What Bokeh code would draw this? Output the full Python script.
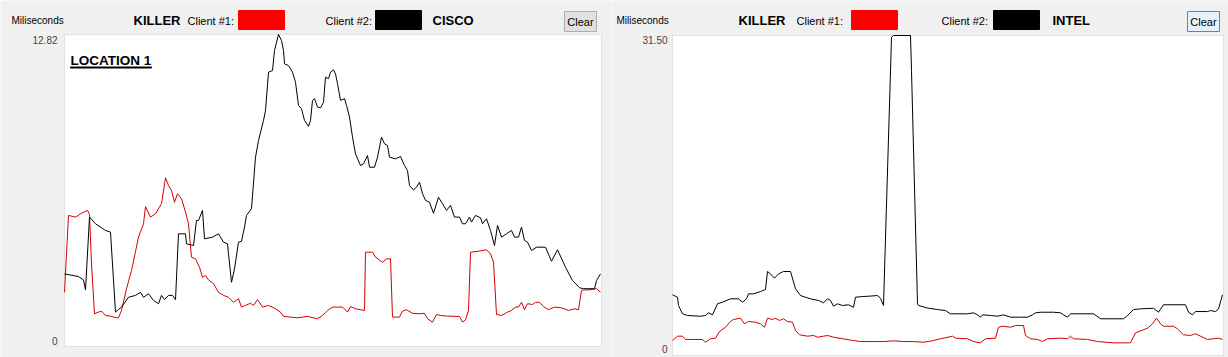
from bokeh.plotting import figure
from bokeh.layouts import row
from bokeh.models import Label, BoxAnnotation, Range1d
from bokeh.embed import file_html
from bokeh.resources import INLINE

# ---------------- data (milliseconds vs. sample) ----------------
# Panel 1: KILLER (client #1, red) vs CISCO (client #2, black), LOCATION 1
killer1_x = [0, 4, 11, 17, 23, 25, 27, 30, 34, 37, 41, 46, 52, 54, 57, 62, 67, 74, 79, 81,
             86, 91, 97, 101, 104, 107, 110, 113, 117, 121, 124, 127, 131, 135, 138, 141, 144, 149, 154, 159,
             164, 169, 174, 177, 181, 186, 189, 193, 198, 204, 211, 216, 219, 226, 233, 243, 253, 258, 263, 268,
             278, 283, 286, 291, 300, 301, 308, 311, 318, 322, 326, 328, 335, 338, 342, 348, 355, 360, 363, 368,
             372, 376, 383, 395, 398, 401, 404, 406, 414, 422, 426, 429, 432, 437, 443, 447, 451, 454, 457, 460,
             463, 468, 471, 475, 479, 484, 490, 497, 504, 510, 514, 517, 519, 524, 532, 536]
killer1_ms = [2.02, 5.24, 5.17, 5.33, 5.45, 5.28, 3.21, 1.12, 1.19, 1.23, 1.05, 1.02, 0.95, 0.95, 1.26, 2.17, 2.93, 4.33, 4.89, 5.61,
              5.17, 5.31, 5.73, 6.82, 6.49, 6.29, 5.79, 6.15, 5.94, 5.38, 4.89, 3.49, 3.42, 3.07, 2.65, 2.72, 2.54, 2.38, 2.02, 1.89,
              1.81, 1.60, 1.75, 1.40, 1.47, 1.56, 1.47, 1.71, 1.40, 1.47, 1.33, 1.19, 1.01, 0.98, 0.95, 1.01, 0.91, 1.05, 1.26, 1.40,
              1.40, 1.19, 1.42, 1.33, 1.26, 3.70, 3.70, 3.49, 3.28, 3.42, 3.42, 0.98, 0.98, 1.23, 1.29, 1.14, 1.12, 1.14, 0.91, 0.77,
              1.09, 1.05, 1.02, 1.01, 0.77, 0.87, 1.26, 3.70, 3.74, 3.80, 3.63, 3.28, 1.09, 1.05, 1.19, 1.26, 1.40, 1.40, 1.60, 1.29,
              1.54, 1.51, 1.60, 1.60, 1.42, 1.29, 1.40, 1.37, 1.26, 1.33, 1.29, 2.10, 2.12, 2.12, 2.17, 2.02]

cisco_x = [0, 14, 19, 21, 25, 31, 41, 46, 51, 54, 57, 64, 71, 76, 79, 84, 89, 94, 97, 100,
           104, 108, 111, 114, 121, 122, 129, 132, 134, 138, 140, 148, 154, 159, 163, 164, 167, 170, 174, 177,
           180, 182, 187, 191, 194, 199, 201, 204, 208, 210, 214, 217, 219, 220, 224, 228, 231, 234, 237, 240,
           244, 246, 248, 250, 253, 256, 259, 261, 264, 266, 269, 271, 273, 276, 280, 282, 285, 288, 291, 296,
           299, 303, 305, 310, 313, 317, 320, 323, 325, 331, 336, 340, 343, 345, 349, 352, 355, 358, 361, 365,
           369, 374, 378, 382, 386, 390, 395, 398, 401, 405, 407, 411, 416, 418, 422, 426, 430, 433, 437, 442,
           447, 450, 454, 457, 460, 463, 467, 472, 481, 487, 493, 501, 508, 515, 519, 530, 532, 536]
cisco_ms = [2.79, 2.68, 2.54, 2.12, 5.17, 4.89, 4.61, 4.54, 1.19, 1.30, 1.40, 1.81, 1.89, 2.02, 1.81, 1.96, 1.68, 1.54, 1.89, 1.72,
            1.89, 1.89, 1.71, 4.47, 4.47, 4.05, 3.98, 5.03, 5.03, 5.45, 4.26, 4.33, 4.47, 4.12, 4.05, 3.63, 2.44, 3.00, 4.12, 4.16,
            4.75, 5.24, 5.52, 7.68, 8.38, 9.22, 9.64, 11.24, 11.31, 12.15, 12.82, 12.57, 12.15, 11.59, 11.52, 11.24, 10.82, 9.85, 9.71, 9.22,
            8.97, 9.22, 10.06, 10.13, 9.78, 9.75, 9.98, 11.03, 10.97, 11.24, 11.34, 11.17, 10.76, 10.06, 10.13, 9.85, 9.36, 8.52, 7.82, 7.33,
            7.40, 7.75, 7.26, 7.26, 7.68, 8.52, 8.24, 8.17, 7.68, 7.61, 7.71, 7.33, 7.12, 6.49, 6.31, 6.42, 6.63, 6.15, 5.87, 5.79,
            5.33, 6.00, 5.73, 5.45, 5.66, 5.17, 5.17, 4.89, 4.89, 5.17, 4.96, 5.24, 5.14, 4.89, 5.10, 4.61, 3.98, 4.82, 4.33, 4.47,
            4.61, 4.33, 4.33, 4.75, 4.19, 4.12, 3.77, 3.91, 3.91, 3.32, 3.80, 3.07, 2.51, 2.21, 2.17, 2.17, 2.51, 2.79]

# Panel 2: KILLER (client #1, red) vs INTEL (client #2, black)
killer2_x = [0, 5, 10, 13, 30, 33, 38, 43, 47, 53, 58, 61, 68, 72, 76, 83, 88, 92, 95, 100,
             103, 107, 111, 115, 120, 123, 127, 135, 141, 145, 151, 155, 161, 170, 181, 188, 201, 211, 221, 231,
             241, 251, 261, 268, 271, 280, 283, 295, 301, 308, 313, 323, 326, 330, 338, 343, 351, 353, 358, 365,
             370, 375, 388, 395, 398, 401, 415, 425, 441, 458, 463, 475, 480, 484, 488, 491, 501, 505, 511, 518,
             523, 528, 535, 541, 546, 550]
killer2_ms = [0.80, 1.24, 1.24, 0.91, 0.91, 0.63, 0.98, 1.04, 1.71, 2.14, 2.72, 2.92, 3.05, 2.48, 2.72, 2.65, 2.48, 2.14, 3.05, 2.92,
              3.05, 2.82, 2.99, 2.72, 2.65, 1.81, 1.38, 1.24, 1.31, 1.14, 1.24, 1.31, 1.14, 0.98, 0.80, 0.70, 0.70, 0.70, 0.77, 0.70,
              0.70, 0.63, 0.80, 0.98, 1.04, 1.24, 1.04, 0.98, 0.70, 0.57, 0.98, 1.04, 2.14, 2.24, 2.14, 2.31, 2.31, 1.31, 0.98, 0.91,
              0.70, 0.98, 1.04, 0.98, 1.24, 0.98, 0.91, 0.70, 0.57, 0.57, 1.58, 2.04, 2.48, 3.05, 2.48, 2.24, 2.24, 1.98, 1.38, 1.31,
              1.48, 1.24, 0.91, 0.98, 1.04, 0.91]

intel_x = [0, 5, 6, 10, 15, 28, 33, 36, 40, 45, 50, 58, 66, 70, 74, 76, 81, 88, 93, 95,
           98, 102, 106, 111, 118, 123, 128, 133, 138, 146, 151, 155, 158, 161, 165, 170, 176, 181, 183, 190,
           196, 205, 208, 211, 219, 221, 238, 239, 245, 246, 255, 265, 273, 278, 295, 301, 305, 308, 310, 318,
           325, 331, 338, 348, 355, 360, 363, 368, 381, 388, 391, 395, 398, 421, 428, 451, 455, 461, 468, 481,
           486, 491, 513, 516, 520, 523, 535, 538, 543, 546, 550]
intel_ms = [5.40, 5.16, 4.33, 3.49, 3.32, 3.25, 3.32, 3.59, 3.39, 4.50, 4.66, 5.00, 5.00, 4.66, 5.00, 5.50, 5.50, 5.73, 5.94, 7.75,
            7.51, 7.07, 7.51, 7.75, 7.75, 6.01, 5.33, 5.16, 5.00, 4.83, 4.60, 5.00, 4.83, 4.26, 4.50, 4.33, 4.40, 4.15, 5.16, 5.23,
            5.26, 5.33, 5.06, 4.33, 31.32, 31.50, 31.50, 27.97, 4.50, 4.33, 4.07, 3.92, 3.82, 3.49, 3.49, 3.59, 3.39, 3.15, 3.39, 3.32,
            3.25, 3.39, 3.15, 3.15, 3.15, 3.39, 3.59, 3.65, 3.65, 3.59, 3.39, 3.15, 3.49, 3.49, 2.99, 2.99, 3.32, 3.92, 3.99, 4.05,
            3.65, 4.40, 4.40, 3.65, 3.39, 3.72, 3.72, 3.82, 3.72, 3.99, 5.40]

# axis extents and tick labels
x_max1, x_max2 = 537, 551
ticks1 = [0, 12.82]
tick_labels1 = ["0", "12.82"]
ticks2 = [0, 31.5]
tick_labels2 = ["0", "31.50"]

# header texts
unit_text = "Miliseconds"
client1_name = "KILLER"
client1_label = "Client #1:"
client2_label = "Client #2:"
client2_names = ["CISCO", "INTEL"]
location_text = "LOCATION 1"
button_text = "Clear"

FONT = "Liberation Sans"
BG = "#f0f0f0"
RED = "#d40000"
BLACK = "#000000"
PAGE_H = 357
TOP = 0


def dx(g, px):
    return (px - g["ox"]) * g["sx"]


def dy(g, py):
    return (g["oy"] - py) * g["sy"]


def make_fig(g):
    p = figure(width=g["w"], height=PAGE_H,
               x_range=Range1d(dx(g, g["x0"]), dx(g, g["x0"] + g["w"])),
               y_range=Range1d(dy(g, TOP + PAGE_H), dy(g, TOP)),
               output_backend="svg", toolbar_location=None,
               min_border=0, min_border_left=0, min_border_right=0,
               min_border_top=0, min_border_bottom=0,
               background_fill_color=BG, border_fill_color=BG,
               outline_line_color=None)
    p.xaxis.visible = False
    p.yaxis.visible = False
    p.grid.visible = False
    # white plotting area framed like the original control
    p.add_layout(BoxAnnotation(left=0, right=g["xmax"], bottom=dy(g, g["bottom"]), top=g["ymax"],
                               fill_color="white", fill_alpha=1.0,
                               line_color="#b0b0b0", line_width=1, level="underlay"))
    return p


def text(p, g, px, py, s, size="11px", bold=False, align="left", color="black"):
    p.add_layout(Label(x=dx(g, px), y=dy(g, py), text=s, text_font=FONT,
                       text_font_size=size, text_font_style="bold" if bold else "normal",
                       text_align=align, text_baseline="middle", text_color=color))


def box(p, g, x1, y1, x2, y2, fill, line=None):
    p.add_layout(BoxAnnotation(left=dx(g, x1), right=dx(g, x2), top=dy(g, y1), bottom=dy(g, y2),
                               fill_color=fill, fill_alpha=1.0,
                               line_color=line if line else fill, line_alpha=1.0, line_width=1))


def header(p, g, lay, name2, btn_fill, btn_line):
    text(p, g, lay["unit"], 20, unit_text, size="10px")
    text(p, g, lay["k"], 20, client1_name, size="13px", bold=True)
    text(p, g, lay["c1"], 20, client1_label)
    box(p, g, lay["b1"], 10, lay["b1"] + 46, 29, "#ff0000")
    text(p, g, lay["c2"], 20, client2_label)
    box(p, g, lay["b2"], 10, lay["b2"] + 46, 29, "#000000")
    text(p, g, lay["n2"], 20, name2, size="13px", bold=True)
    box(p, g, lay["btn"], 11, lay["btn"] + 32, 31, btn_fill, btn_line)
    text(p, g, lay["btn"] + 16, 21, button_text, align="center")


# ---------------- left panel ----------------
g1 = dict(x0=0, w=612, ox=64, sx=1.0, oy=340, sy=12.82 / 306, xmax=x_max1, ymax=ticks1[-1], bottom=346)
p1 = make_fig(g1)
p1.line(killer1_x, killer1_ms, line_color=RED, line_width=1)
p1.line(cisco_x, cisco_ms, line_color=BLACK, line_width=1)
header(p1, g1, dict(unit=11, k=133, c1=187, b1=238, c2=325, b2=375, n2=432, btn=564),
       client2_names[0], "#e1e1e1", "#adadad")
for t, lab in zip(ticks1, tick_labels1):
    p1.add_layout(Label(x=dx(g1, 57), y=t, text=lab, text_font=FONT, text_font_size="10px",
                        text_align="right", text_baseline="middle",
                        y_offset=-5 if t > 0 else 0))
text(p1, g1, 70, 60, location_text, size="13.5px", bold=True)
box(p1, g1, 70, 66.5, 151, 67.5, "#000000")

# ---------------- right panel ----------------
g2 = dict(x0=612, w=616, ox=672, sx=1.0, oy=348, sy=31.5 / 313, xmax=x_max2, ymax=ticks2[-1], bottom=355)
p2 = make_fig(g2)
p2.line(killer2_x, killer2_ms, line_color=RED, line_width=1)
p2.line(intel_x, intel_ms, line_color=BLACK, line_width=1)
header(p2, g2, dict(unit=616, k=738, c1=796, b1=851, c2=941, b2=993, n2=1052, btn=1187),
       client2_names[1], "#e5f1fb", "#3c8fd0")
for t, lab in zip(ticks2, tick_labels2):
    p2.add_layout(Label(x=dx(g2, 667), y=t, text=lab, text_font=FONT, text_font_size="10px",
                        text_align="right", text_baseline="middle",
                        y_offset=-4 if t > 0 else 0))

layout = row(p1, p2)
open("out.html", "w").write(file_html(layout, INLINE))
